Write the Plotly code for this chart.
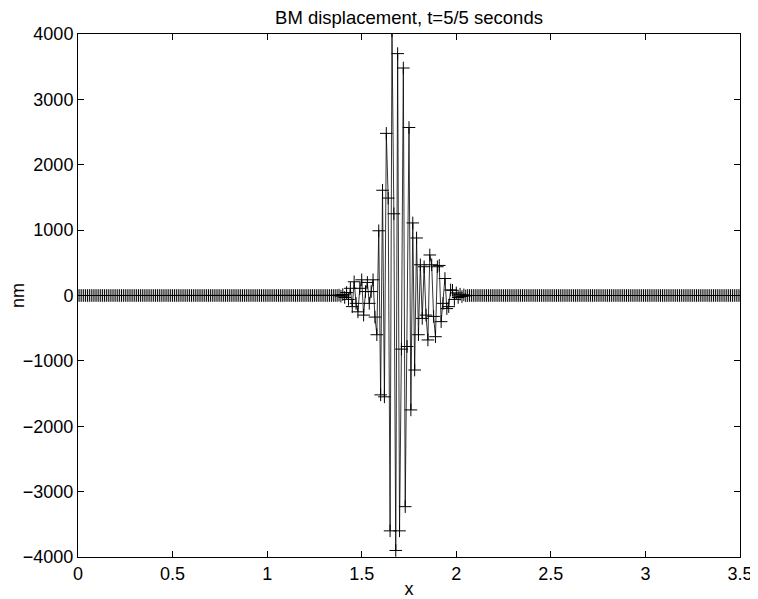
import numpy as np
import plotly.graph_objects as go

# Sample positions along x (cm): 0 to 3.5 in steps of 0.01
x_start, x_stop, n_points = 0.0, 3.5, 351
x_vals = np.linspace(x_start, x_stop, n_points)

# Nonzero part of the displacement (nm), for x = 1.38 ... 2.05
active_x_first = 1.38
active_vals = [
    5, -10, 15, -30, 45, -60, 110, -170, 210, -120,          # 1.38 - 1.47
    -250, 110, 240, -300, 60, 200, -120, 60, 240, -330,      # 1.48 - 1.57
    -600, 990, -1520, 1610, -1550, 2480, 1490, -3600, 4050, 1250,   # 1.58 - 1.67
    -3900, 3700, -3600, -820, 3480, -3230, -780, 2570, -1750, 1110,  # 1.68 - 1.77
    -1140, 880, -600, 470, -350, 440, -300, -680, 620, 470,  # 1.78 - 1.87
    -320, -630, 440, 460, -400, -120, 260, -200, -170, 85,   # 1.88 - 1.97
    80, -60, 40, -30, 20, -15, 10, -5,                       # 1.98 - 2.05
]

y_vals = np.zeros(n_points)
i0 = int(round(active_x_first / 0.01))
y_vals[i0:i0 + len(active_vals)] = active_vals

title_text = "BM displacement, t=5/5 seconds"
x_label = "x"
y_label = "nm"
x_ticks = [0, 0.5, 1, 1.5, 2, 2.5, 3, 3.5]
x_ticktext = ["0", "0.5", "1", "1.5", "2", "2.5", "3", "3.5"]
y_ticks = [-4000, -3000, -2000, -1000, 0, 1000, 2000, 3000, 4000]

fig = go.Figure()
fig.add_trace(go.Scatter(
    x=x_vals, y=y_vals, mode="lines+markers",
    line=dict(color="black", width=0.8),
    marker=dict(symbol="cross-thin", size=9, line=dict(color="black", width=1)),
    cliponaxis=True, showlegend=False,
))

font_family = "Liberation Sans, Arial, Helvetica, sans-serif"
fig.update_layout(
    width=750, height=591,
    margin=dict(l=70, r=18, t=26, b=42, autoexpand=False),
    paper_bgcolor="white", plot_bgcolor="white",
    font=dict(family=font_family, size=18, color="black"),
    title=dict(text=title_text, x=0.5, xanchor="center", xref="paper",
               y=1 - 9.5 / 591, yref="container", yanchor="middle", automargin=False,
               font=dict(size=18.5, color="black")),
)
fig.update_xaxes(
    range=[0, 3.5], tickvals=x_ticks, ticktext=x_ticktext, automargin=False,
    showgrid=False, zeroline=False, showline=True, linecolor="black", linewidth=1,
    mirror="allticks", ticks="inside", ticklen=6, tickcolor="black",
    title=dict(text=x_label, standoff=0, font=dict(size=18)),
)
fig.update_yaxes(
    range=[-4000, 4000], tickvals=y_ticks, automargin=False,
    showgrid=False, zeroline=False, showline=True, linecolor="black", linewidth=1,
    mirror="allticks", ticks="inside", ticklen=6, tickcolor="black",
    title=dict(text=y_label, standoff=6, font=dict(size=18)),
)

fig.write_html("out.html")
